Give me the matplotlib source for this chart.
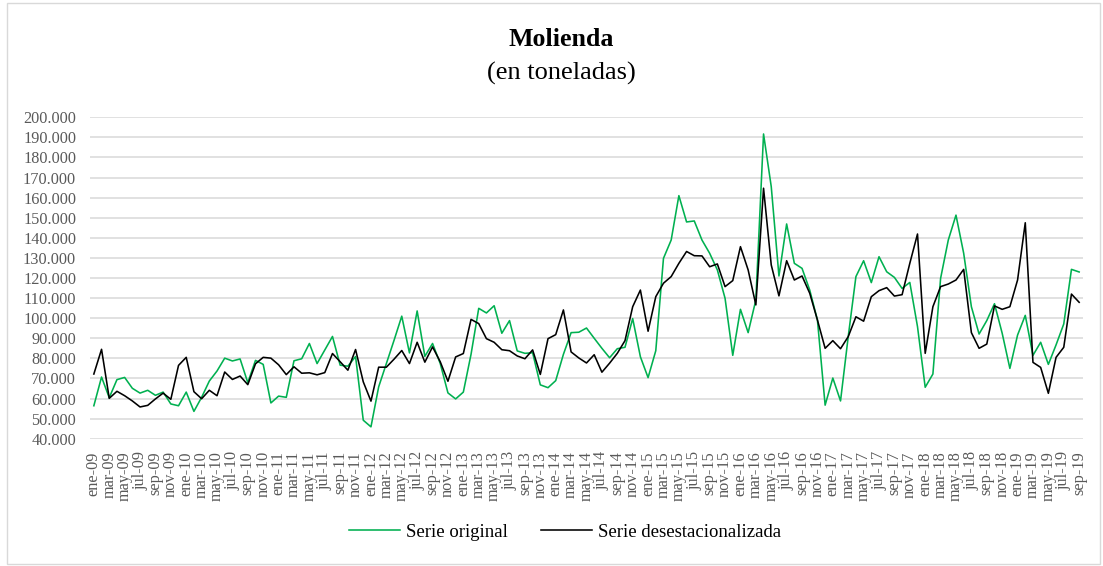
import matplotlib
matplotlib.use("Agg")
import matplotlib.pyplot as plt
from matplotlib.patches import Rectangle
from matplotlib.ticker import FuncFormatter

meses = ["ene", "feb", "mar", "abr", "may", "jun", "jul", "ago", "sep", "oct", "nov", "dic"]
categorias = [f"{m}-{a:02d}" for a in range(9, 20) for m in meses][:129]

serie_original = [
    56.4, 70.7, 60.4, 69.4, 70.5, 65.1, 62.7, 64.1, 61.6, 63.2, 57.3, 56.4,
    63.2, 53.6, 60.6, 68.7, 73.7, 80.1, 78.7, 79.7, 67.9, 79.0, 77.0, 57.8,
    61.2, 60.6, 78.8, 79.8, 87.4, 77.4, 84.1, 90.9, 76.6, 76.1, 80.9, 49.2,
    45.9, 65.8, 77.4, 89.0, 101.0, 82.7, 103.6, 81.0, 87.4, 77.4, 62.8, 59.8,
    63.2, 82.0, 104.9, 102.6, 106.2, 92.5, 98.8, 83.7, 82.5, 82.8, 66.8, 65.4,
    68.9, 82.0, 92.8, 93.0, 95.1, 90.0, 85.0, 80.3, 84.8, 85.5, 99.8, 80.8,
    70.4, 83.8, 129.8, 138.9, 161.0, 147.9, 148.4, 138.9, 132.3, 124.0, 109.9, 81.5,
    104.4, 92.8, 109.1, 191.7, 165.5, 121.0, 146.9, 127.3, 124.8, 114.0, 99.1, 56.7,
    70.2, 58.8, 90.8, 120.7, 128.6, 117.7, 130.6, 123.1, 120.3, 114.8, 117.8, 95.8,
    65.6, 72.2, 119.8, 138.9, 151.3, 132.3, 105.7, 92.1, 98.8, 107.2, 92.5, 75.0,
    91.6, 101.4, 81.5, 88.0, 77.0, 86.7, 97.1, 124.3, 123.0,
]
serie_desest = [
    72.2, 84.5, 60.1, 63.6, 61.4, 58.8, 55.8, 56.6, 59.8, 62.7, 59.6, 76.5,
    80.5, 63.4, 59.9, 64.1, 61.4, 73.2, 69.5, 71.2, 66.9, 77.3, 80.5, 80.1,
    76.8, 71.9, 75.8, 72.6, 72.8, 71.8, 72.9, 82.4, 78.3, 74.1, 84.4, 68.3,
    58.7, 75.6, 75.6, 79.6, 83.9, 77.4, 88.0, 78.1, 85.7, 78.3, 68.6, 80.7,
    82.4, 99.4, 97.3, 89.8, 88.0, 84.3, 83.8, 81.2, 79.8, 84.2, 72.0, 89.8,
    91.8, 104.1, 83.2, 80.2, 77.7, 81.8, 73.1, 77.6, 82.5, 88.8, 105.7, 114.0,
    93.5, 110.7, 117.4, 120.7, 127.3, 133.2, 131.1, 131.0, 125.6, 127.0, 115.7, 118.7,
    135.6, 124.0, 106.6, 164.7, 126.5, 111.1, 128.6, 119.0, 121.0, 112.4, 99.1, 85.0,
    88.8, 84.8, 90.8, 100.7, 98.5, 110.7, 113.7, 115.2, 111.0, 111.7, 127.3, 141.9,
    82.5, 105.7, 115.7, 117.0, 119.0, 124.3, 92.8, 85.0, 87.1, 106.1, 104.4, 105.7,
    119.0, 147.5, 78.0, 75.5, 62.6, 80.5, 85.5, 112.0, 107.9,
]
serie_original = [v * 1000 for v in serie_original]
serie_desest = [v * 1000 for v in serie_desest]

plt.rcParams["font.family"] = ["Liberation Serif", "DejaVu Serif"]

W, H = 1103, 566
fig = plt.figure(figsize=(W / 100, H / 100), dpi=100)
fig.patches.append(Rectangle((7 / W, 2 / H), (W - 10) / W, (H - 5) / H,
                             transform=fig.transFigure, fill=False,
                             edgecolor="#D9D9D9", linewidth=1.0))

left, right = 90 / W, 1083 / W
top, bottom = 1 - 117.3 / H, 1 - 438.7 / H
ax = fig.add_axes([left, bottom, right - left, top - bottom])

x = list(range(len(categorias)))
l1, = ax.plot(x, serie_original, color="#00B050", lw=1.15, label="Serie original")
l2, = ax.plot(x, serie_desest, color="#000000", lw=1.15, label="Serie desestacionalizada")

ax.set_xlim(-0.5, len(categorias) - 0.5)
ax.set_ylim(40000, 200000)
ax.set_yticks(range(40000, 200001, 10000))
ax.yaxis.set_major_formatter(FuncFormatter(lambda v, p: f"{int(v):,}".replace(",", ".")))
ax.set_xticks(x[::2])
ax.set_xticklabels(categorias[::2], rotation=90)

ax.grid(axis="y", color="#D9D9D9", lw=1.1)
ax.set_axisbelow(True)
for s in ax.spines.values():
    s.set_visible(False)
ax.tick_params(axis="both", length=0, labelcolor="#595959", labelsize=11.7)
ax.tick_params(axis="y", pad=10)
ax.tick_params(axis="x", pad=9)

fig.text(561 / W, 1 - 40 / H, "Molienda", ha="center", va="center",
         fontsize=18.6, fontweight="bold")
fig.text(561 / W, 1 - 73 / H, "(en toneladas)", ha="center", va="center",
         fontsize=19)

fig.legend(handles=[l1, l2], loc="center", bbox_to_anchor=(565 / W, 1 - 532 / H),
           ncol=2, frameon=False, fontsize=13.5, handlelength=2.7,
           columnspacing=1.8, handletextpad=0.3)

fig.savefig("out.png", dpi=100)
